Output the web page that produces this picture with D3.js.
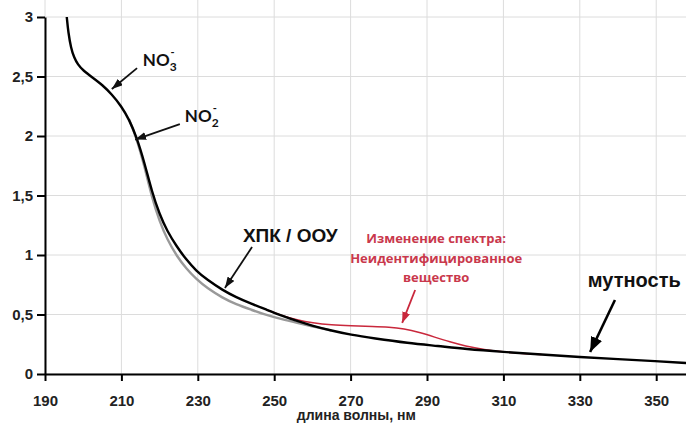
<!DOCTYPE html>
<html>
<head>
	<meta charset="utf-8">
	<title>Спектр</title>
	<script src="https://cdn.jsdelivr.net/npm/d3@7"></script>
	<style>
		body { margin: 0; background: #fff; }
		.tick text { font-family: "Liberation Sans", Arial, sans-serif; font-weight: bold; font-size: 15px; fill: #222; }
	</style>
</head>
<body>
	<div id="chart"></div>
	<script>

		// data

		const xTicks = [190, 210, 230, 250, 270, 290, 310, 330, 350];
		const yTicks = [0, 0.5, 1, 1.5, 2, 2.5, 3];

		// main spectrum (black)
		const blackWl  = [195.7, 196.1, 196.8, 197.6, 198.6, 200.0, 202.5, 205, 207.5, 210, 212, 214, 216, 218, 220, 222, 224.5, 227, 229.5, 232.5, 236.5, 240, 244, 248, 252, 256, 260, 265, 270, 276, 285, 293, 300, 310, 320, 330, 340, 350, 358];
		const blackAbs = [3.0, 2.87, 2.74, 2.66, 2.60, 2.55, 2.49, 2.43, 2.35, 2.25, 2.14, 1.99, 1.78, 1.53, 1.34, 1.20, 1.07, 0.96, 0.87, 0.79, 0.705, 0.645, 0.59, 0.54, 0.49, 0.445, 0.405, 0.365, 0.33, 0.30, 0.26, 0.235, 0.21, 0.185, 0.163, 0.143, 0.125, 0.108, 0.092];

		// reference spectrum (gray)
		const grayWl  = [212, 214, 216, 218, 220, 222, 224.5, 227, 229.5, 232.5, 236.5, 240, 244, 248, 252, 256, 260, 265];
		const grayAbs = [2.14, 1.98, 1.75, 1.48, 1.28, 1.13, 0.99, 0.885, 0.80, 0.72, 0.64, 0.585, 0.54, 0.495, 0.46, 0.43, 0.40, 0.365];

		// changed spectrum (red)
		const redWl  = [248, 252, 256, 260, 265, 270, 276, 280, 284, 288, 292, 296, 300, 305, 310, 320];
		const redAbs = [0.54, 0.49, 0.455, 0.43, 0.412, 0.405, 0.40, 0.395, 0.38, 0.35, 0.31, 0.27, 0.235, 0.205, 0.185, 0.163];

		// annotations: arrows in data units
		const arrowNames = ["no3", "no2", "cod", "red", "turb"];
		const arrowFrom  = [[214.1, 2.57], [225.3, 2.10], [244.2, 1.067], [286.9, 0.706], [339.2, 0.622]];
		const arrowTo    = [[207.5, 2.395], [213.6, 1.97], [237.1, 0.723], [283.5, 0.429], [332.7, 0.185]];

		const redLines = ["Изменение спектра:", "Неидентифицированное", "вещество"];
		const redLineY = [1.10, 0.933, 0.773];

		// layout

		const width = 686, height = 423;
		const margin = {top: 17, right: 0, bottom: 49, left: 45};

		const svg = d3.select("#chart").append("svg")
			.attr("width", width)
			.attr("height", height)
			.style("display", "block");

		const x = d3.scaleLinear().domain([190, 357.8]).range([margin.left, width - margin.right]);
		const y = d3.scaleLinear().domain([0, 3]).range([height - margin.bottom, margin.top]);

		const loc = d3.formatLocale({decimal: ",", thousands: " ", grouping: [3], currency: ["", ""]});
		const fmt = loc.format("~g");

		// grid
		svg.append("g")
			.selectAll("line")
			.data(xTicks)
			.join("line")
				.attr("x1", d => x(d)).attr("x2", d => x(d))
				.attr("y1", 0).attr("y2", y(0))
				.attr("stroke", "#dcdcdc")
				.attr("stroke-width", 1);

		svg.append("g")
			.selectAll("line")
			.data(yTicks)
			.join("line")
				.attr("x1", x(190)).attr("x2", width)
				.attr("y1", d => y(d)).attr("y2", d => y(d))
				.attr("stroke", "#dcdcdc")
				.attr("stroke-width", 1);

		// markers
		const defs = svg.append("defs");
		function marker(id, color, len, wid) {
			defs.append("marker")
				.attr("id", id)
				.attr("markerUnits", "userSpaceOnUse")
				.attr("viewBox", `0 0 ${len} ${wid}`)
				.attr("refX", len).attr("refY", wid / 2)
				.attr("markerWidth", len).attr("markerHeight", wid)
				.attr("orient", "auto")
				.append("path")
					.attr("d", `M0,0L${len},${wid / 2}L0,${wid}Z`)
					.attr("fill", color);
		}
		marker("ahBlack", "#111", 11, 8);
		marker("ahRed", "#c9283c", 11, 8);
		marker("ahBig", "#000", 15, 12);

		// curves
		const line = d3.line()
			.x(d => x(d[0]))
			.y(d => y(d[1]))
			.curve(d3.curveBasis);

		svg.append("path")
			.datum(d3.zip(grayWl, grayAbs))
			.attr("d", line)
			.attr("fill", "none")
			.attr("stroke", "#999")
			.attr("stroke-width", 2.4);

		svg.append("path")
			.datum(d3.zip(redWl, redAbs))
			.attr("d", line)
			.attr("fill", "none")
			.attr("stroke", "#c9283c")
			.attr("stroke-width", 1.5);

		svg.append("path")
			.datum(d3.zip(blackWl, blackAbs))
			.attr("d", line)
			.attr("fill", "none")
			.attr("stroke", "#000")
			.attr("stroke-width", 2.4);

		// axes
		const xAxis = svg.append("g")
			.attr("transform", `translate(0,${y(0)})`)
			.call(d3.axisBottom(x).tickValues(xTicks).tickSize(7).tickSizeOuter(0).tickPadding(14).tickFormat(d3.format("d")));
		const yAxis = svg.append("g")
			.attr("transform", `translate(${x(190)},0)`)
			.call(d3.axisLeft(y).tickValues(yTicks).tickSize(8).tickSizeOuter(0).tickPadding(4).tickFormat(fmt));

		[xAxis, yAxis].forEach(g => {
			g.select(".domain").attr("stroke", "#000").attr("stroke-width", 2);
			g.selectAll(".tick line").attr("stroke", "#000").attr("stroke-width", 2);
		});

		svg.append("text")
			.attr("x", x(271.5))
			.attr("y", y(0) + 46)
			.attr("text-anchor", "middle")
			.style("font-family", "'Liberation Sans', Arial, sans-serif")
			.style("font-weight", "bold")
			.style("font-size", "14px")
			.attr("fill", "#222")
			.text("длина волны, нм");

		// arrows
		const arrowColor = {no3: "#111", no2: "#111", cod: "#111", red: "#c9283c", turb: "#000"};
		svg.append("g")
			.selectAll("line")
			.data(arrowNames)
			.join("line")
				.attr("x1", (d, i) => x(arrowFrom[i][0]))
				.attr("y1", (d, i) => y(arrowFrom[i][1]))
				.attr("x2", (d, i) => x(arrowTo[i][0]))
				.attr("y2", (d, i) => y(arrowTo[i][1]))
				.attr("stroke", d => arrowColor[d])
				.attr("stroke-width", d => d === "turb" ? 2.6 : 1.8)
				.attr("marker-end", d => d === "turb" ? "url(#ahBig)" : d === "red" ? "url(#ahRed)" : "url(#ahBlack)");

		// ion labels
		function ionLabel(xv, yv, sub) {
			const t = svg.append("text")
				.attr("x", x(xv))
				.attr("y", y(yv))
				.style("font-family", "Lato, 'Open Sans', sans-serif")
				.style("font-weight", "bold")
				.style("font-size", "17px")
				.attr("fill", "#111");
			t.append("tspan").text("NO");
			t.append("tspan").attr("dy", 5).style("font-size", "12px").text(sub);
			t.append("tspan").attr("dx", -6).attr("dy", -15).style("font-size", "11px").text("-");
		}
		ionLabel(215.6, 2.588, "3");
		ionLabel(226.6, 2.12, "2");

		svg.append("text")
			.attr("x", x(241.8))
			.attr("y", y(1.109))
			.style("font-family", "'Liberation Sans', Arial, sans-serif")
			.style("font-weight", "bold")
			.style("font-size", "19px")
			.attr("fill", "#111")
			.text("ХПК / ООУ");

		svg.append("text")
			.attr("x", x(332.1))
			.attr("y", y(0.731))
			.style("font-family", "'Liberation Sans', Arial, sans-serif")
			.style("font-weight", "bold")
			.style("font-size", "20px")
			.attr("fill", "#111")
			.text("мутность");

		svg.append("g")
			.selectAll("text")
			.data(redLines)
			.join("text")
				.attr("x", x(292.4))
				.attr("y", (d, i) => y(redLineY[i]))
				.attr("text-anchor", "middle")
				.style("font-family", "'Open Sans', sans-serif")
				.style("font-weight", "bold")
				.style("font-size", "13px")
				.attr("fill", "#c9384c")
				.text(d => d);

	</script>
</body>
</html>
